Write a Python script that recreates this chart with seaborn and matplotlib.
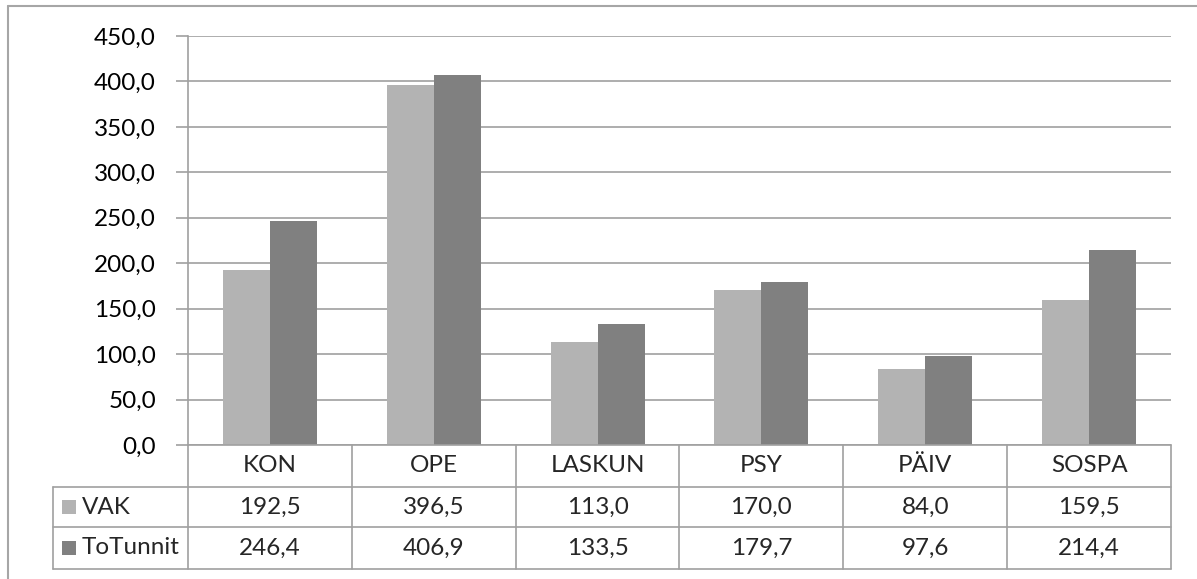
import matplotlib
matplotlib.use("Agg")
import matplotlib.pyplot as plt
from matplotlib.transforms import blended_transform_factory
from matplotlib.lines import Line2D
from matplotlib.patches import Rectangle
import seaborn as sns
import pandas as pd

categories = ["KON", "OPE", "LASKUN", "PSY", "PÄIV", "SOSPA"]
series_names = ["VAK", "ToTunnit"]
vak = [192.5, 396.5, 113.0, 170.0, 84.0, 159.5]
totunnit = [246.4, 406.9, 133.5, 179.7, 97.6, 214.4]
y_ticks = [0, 50, 100, 150, 200, 250, 300, 350, 400, 450]

colors = ["#b3b3b3", "#808080"]
line_gray = "#a0a0a0"

df = pd.DataFrame({
    "cat": categories * 2,
    "series": [series_names[0]] * len(categories) + [series_names[1]] * len(categories),
    "value": vak + totunnit,
})

sns.set_theme(style="white")
plt.rcParams["font.family"] = ["Lato", "DejaVu Sans"]

W, H = 1197, 579
fig = plt.figure(figsize=(W / 100, H / 100), dpi=100)

def fx(px):
    return px / W

def fy(py):
    return 1 - py / H

left_px, right_px, top_px, zero_px = 188, 1171, 36, 445
ax = fig.add_axes([fx(left_px), fy(zero_px), fx(right_px - left_px), fy(top_px) - fy(zero_px)])

sns.barplot(data=df, x="cat", y="value", hue="series", order=categories,
            hue_order=series_names, palette=colors, width=0.573, gap=0,
            saturation=1, legend=False, ax=ax, errorbar=None,
            linewidth=0, edgecolor="none")

ax.set_xlim(-0.5, len(categories) - 0.5)
ax.set_ylim(0, 450)
ax.set_yticks(y_ticks)
ax.set_yticklabels([f"{t:.1f}".replace(".", ",") for t in y_ticks], fontsize=17.5)
ax.set_xticks([])
ax.set_xlabel("")
ax.set_ylabel("")
ax.yaxis.grid(True, color=line_gray, linewidth=1.2)
ax.set_axisbelow(True)
for s in ["top", "right", "bottom"]:
    ax.spines[s].set_visible(False)
ax.spines["left"].set_color(line_gray)
ax.spines["left"].set_linewidth(1.2)
ax.tick_params(axis="y", which="both", left=True, length=9, width=1.2,
               color=line_gray, pad=14, labelcolor="black")

# data table beneath the bars
tr = blended_transform_factory(ax.transData, fig.transFigure)
table_left_px = 53
row_lines_px = [445, 487, 527, 569]

def hline(x0, x1, y, transform):
    fig.add_artist(Line2D([x0, x1], [y, y], transform=transform,
                          color=line_gray, linewidth=1.2, clip_on=False))

def vline(x, y0, y1, transform):
    fig.add_artist(Line2D([x, x], [y0, y1], transform=transform,
                          color=line_gray, linewidth=1.2, clip_on=False))

# horizontal rules
hline(fx(left_px), fx(right_px), fy(row_lines_px[0]), fig.transFigure)
for py in row_lines_px[1:]:
    hline(fx(table_left_px), fx(right_px), fy(py), fig.transFigure)

# vertical rules
vline(fx(table_left_px), fy(487), fy(569), fig.transFigure)
for i in range(len(categories) + 1):
    vline(i - 0.5, fy(445), fy(569), tr)

# header row
for i, c in enumerate(categories):
    fig.text(i, fy(466), c, transform=tr, ha="center", va="center", fontsize=17.5)

# series rows
rows = [vak, totunnit]
row_centers = [507, 548]
for name, vals, col, yc in zip(series_names, rows, colors, row_centers):
    fig.add_artist(Rectangle((fx(62), fy(yc + 7)), fx(14), fy(yc - 7) - fy(yc + 7),
                             transform=fig.transFigure, facecolor=col, edgecolor="none"))
    fig.text(fx(82), fy(yc), name, ha="left", va="center", fontsize=17.5)
    for i, v in enumerate(vals):
        fig.text(i, fy(yc), f"{v:.1f}".replace(".", ","), transform=tr,
                 ha="center", va="center", fontsize=17.5)

# chart frame (top and left edges)
fig.add_artist(Line2D([fx(8), 1], [fy(6), fy(6)], transform=fig.transFigure,
                      color="#a6a6a6", linewidth=1.5))
fig.add_artist(Line2D([fx(8), fx(8)], [fy(6), 0], transform=fig.transFigure,
                      color="#a6a6a6", linewidth=1.5))

fig.savefig("out.png", dpi=100, facecolor="white")
